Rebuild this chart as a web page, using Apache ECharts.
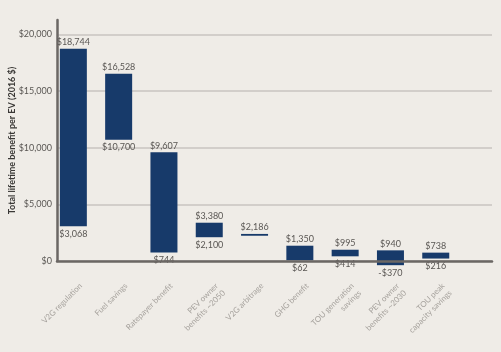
<!DOCTYPE html>
<html>
<head>
<meta charset="utf-8">
<script src="https://cdn.jsdelivr.net/npm/echarts@6/dist/echarts.min.js"></script>
<style>
  html, body { margin: 0; padding: 0; background: #efece7; }
  #chart { width: 501px; height: 352px; }
</style>
</head>
<body>
<div id="chart"></div>
<script>
const categories = ['V2G regulation', 'Fuel savings', 'Ratepayer benefit', 'PEV owner\nbenefits ~2050',
  'V2G arbitrage', 'GHG benefit', 'TOU generation\nsavings', 'PEV owner\nbenefits ~2030', 'TOU peak\ncapacity savings'];
const highs = [18744, 16528, 9607, 3380, 2390, 1350, 995, 940, 738];
const lows = [3068, 10700, 744, 2100, 2230, 62, 414, -370, 216];
const topLabels = ['$18,744', '$16,528', '$9,607', '$3,380', '$2,186', '$1,350', '$995', '$940', '$738'];
const bottomLabels = ['$3,068', '$10,700', '$744', '$2,100', '', '$62', '$414', '-$370', '$216'];
const yTicks = [0, 5000, 10000, 15000, 20000];

const barColor = '#173a6a';
const axisColor = '#6b6764';
const font = 'Lato';

const chart = echarts.init(document.getElementById('chart'));

function renderBar(params, api) {
  const i = params.dataIndex;
  const top = api.coord([i, api.value(2)]);
  const bot = api.coord([i, api.value(1)]);
  const w = 27;
  return {
    type: 'group',
    children: [
      { type: 'rect', shape: { x: top[0] - w / 2, y: top[1], width: w, height: bot[1] - top[1] },
        style: { fill: barColor } },
      { type: 'text', x: top[0], y: top[1] - 2,
        style: { text: topLabels[i], align: 'center', verticalAlign: 'bottom', fill: '#5a5754', font: '9px ' + font } },
      { type: 'text', x: top[0], y: bot[1] + 3,
        style: { text: bottomLabels[i], align: 'center', verticalAlign: 'top', fill: '#5a5754', font: '9px ' + font } }
    ]
  };
}

const option = {
  backgroundColor: '#efece7',
  animation: false,
  grid: [
    { left: 57, right: 9, top: 20, bottom: 91, outerBoundsMode: 'none' },
    { left: 50.7, right: 42.6, top: 20, bottom: 68.35, outerBoundsMode: 'none' },
    { left: 54.7, right: 38.6, top: 20, bottom: 91, outerBoundsMode: 'none' }
  ],
  xAxis: [
    { gridIndex: 0, type: 'category', data: [''], z: 10,
      axisLine: { lineStyle: { color: axisColor, width: 2.5 } },
      axisTick: { show: false }, axisLabel: { show: false } },
    { gridIndex: 1, type: 'category', data: categories, show: false },
    { gridIndex: 2, type: 'category', data: categories,
      axisLine: { show: false }, axisTick: { show: false },
      axisLabel: { interval: 0, rotate: 45, margin: 20, align: 'right', verticalAlign: 'top',
        color: '#a6a29d', fontSize: 8, fontFamily: font, lineHeight: 10 } }
  ],
  yAxis: [
    { gridIndex: 0, type: 'value', min: 0, max: 21280, interval: 5000,
      name: 'Total lifetime benefit per EV (2016 $)', nameLocation: 'middle', nameGap: 40,
      nameMoveOverlap: false,
      nameTextStyle: { color: '#3a3836', fontSize: 9, fontWeight: 'bold', fontFamily: font },
      axisLine: { show: true, lineStyle: { color: axisColor, width: 2.5 } },
      axisTick: { show: false },
      axisLabel: { showMaxLabel: false, margin: 5, color: '#5a5754', fontSize: 9, fontFamily: font,
        formatter: v => yTicks.includes(v) ? '$' + v.toLocaleString('en-US') : '' },
      splitLine: { lineStyle: { color: ['#c9c5c0', '#c9c5c0', '#c9c5c0', '#c9c5c0', '#c9c5c0', 'rgba(0,0,0,0)'], width: 1.5 } } },
    { gridIndex: 1, type: 'value', min: -2000, max: 21280, show: false },
    { gridIndex: 2, type: 'value', min: 0, max: 1, show: false }
  ],
  series: [
    { type: 'custom', xAxisIndex: 1, yAxisIndex: 1, renderItem: renderBar, z: 3,
      encode: { x: 0, y: [1, 2] },
      data: categories.map((c, i) => [i, lows[i], highs[i]]) }
  ]
};

chart.setOption(option);
</script>
</body>
</html>
